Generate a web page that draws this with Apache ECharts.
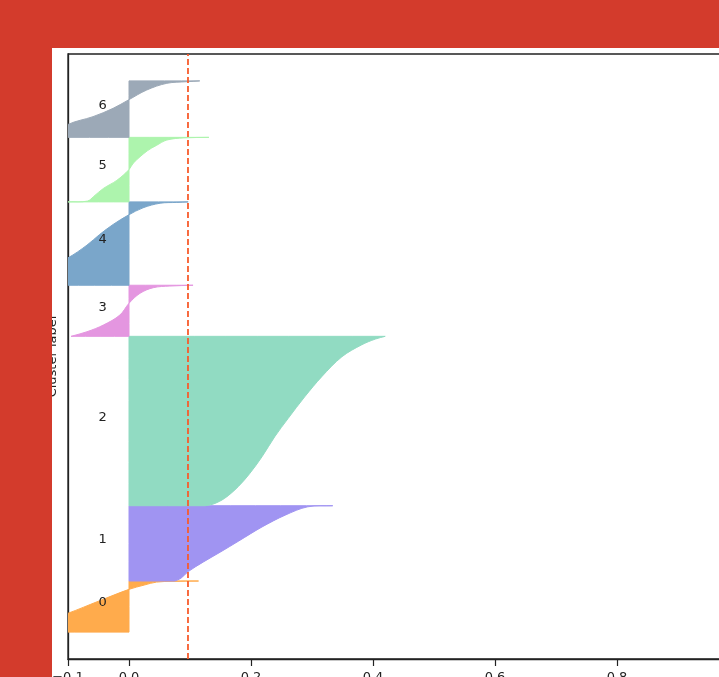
<!DOCTYPE html>
<html>
<head>
<meta charset="utf-8">
<script src="https://cdn.jsdelivr.net/npm/echarts@6/dist/echarts.min.js"></script>
<style>
html,body{margin:0;padding:0;background:#D33B2C;}
#chart{width:719px;height:677px;}
</style>
</head>
<body>
<div id="chart"></div>
<script>
// ---- data ----
const clusterNames = ['0', '1', '2', '3', '4', '5', '6'];
const clusterSizes = [19, 28, 63, 19, 31, 24, 21];
const clusterColors = ['#FFAB4C', '#A094F2', '#91DBC2', '#E496E0', '#7AA6CA', '#ADF4AD', '#9CA9B7'];
const silhouetteAvg = 0.0967;
const xTicks = [-0.1, 0.0, 0.2, 0.4, 0.6, 0.8, 1.0];

// sorted silhouette profile per cluster: sample rank within cluster -> silhouette value
const c0Rank  = [0, 4, 7.0, 11.5, 15.9, 17.5, 18.6, 18.9, 19];
const c0Value = [-0.18, -0.14, -0.100, -0.050, 0.000, 0.025, 0.045, 0.072, 0.114];

const c1Rank  = [0, 1, 3.5, 7.1, 10.8, 14.9, 20.1, 24.5, 27.6, 28];
const c1Value = [0.075, 0.085, 0.097, 0.122, 0.150, 0.180, 0.218, 0.256, 0.293, 0.334];

const c2Rank  = [0, 0.6, 2.8, 7.1, 12.0, 18.2, 25.7, 32.5, 40.5, 48.0, 55.4, 59.8, 62, 63];
const c2Value = [0.125, 0.138, 0.157, 0.179, 0.198, 0.218, 0.239, 0.261, 0.288, 0.316, 0.349, 0.381, 0.404, 0.420];

const c3Rank  = [0, 1.7, 4.2, 7.9, 12.3, 16.0, 18.1, 18.7, 19];
const c3Value = [-0.095, -0.069, -0.042, -0.015, 0.000, 0.018, 0.040, 0.067, 0.105];

const c4Rank  = [0, 5, 10.2, 14.9, 18.9, 22.6, 26.1, 28.8, 30.5, 30.8, 31];
const c4Value = [-0.22, -0.15, -0.100, -0.069, -0.048, -0.026, -0.001, 0.023, 0.051, 0.078, 0.097];

const c5Rank  = [0, 0.3, 2, 5, 8, 12, 14.4, 19, 21, 23, 23.8, 24];
const c5Value = [-0.100, -0.068, -0.058, -0.042, -0.020, 0.000, 0.007, 0.030, 0.045, 0.062, 0.090, 0.131];

const c6Rank  = [0, 4.8, 7.7, 10.8, 13.9, 17.6, 20.1, 20.7, 21];
const c6Value = [-0.13, -0.100, -0.059, -0.026, -0.001, 0.029, 0.062, 0.095, 0.116];

const profiles = [
  [c0Rank, c0Value], [c1Rank, c1Value], [c2Rank, c2Value], [c3Rank, c3Value],
  [c4Rank, c4Value], [c5Rank, c5Value], [c6Rank, c6Value]
];

// stacking of clusters along y (as in the silhouette plot)
const gap = 10;
let lower = gap;
const bases = clusterSizes.map(s => { const b = lower; lower += s; return b; });
const yMax = lower + gap;

const FONT = 'DejaVu Sans';
const INK = '#222';

const chart = echarts.init(document.getElementById('chart'), null, {renderer: 'canvas'});

const clusterData = clusterNames.map((n, i) => [0, bases[i] + clusterSizes[i] / 2, i]);
const labelData = clusterNames.map((n, i) => [-0.05, bases[i] + clusterSizes[i] / 2, i]);

function renderCluster(params, api) {
  const i = api.value(2);
  const base = bases[i], size = clusterSizes[i];
  const ranks = profiles[i][0], vals = profiles[i][1];
  const a = api.coord([0, base]);
  const b = api.coord([0, base + size]);
  const curve = ranks.map((r, k) => api.coord([vals[k], base + r]));
  // corners are doubled so the bezier smoothing keeps them sharp
  const pts = [a, a, curve[0]].concat(curve, [curve[curve.length - 1], b, b]);
  return {
    type: 'polygon',
    shape: {points: pts, smooth: 0.35},
    style: {fill: clusterColors[i], stroke: clusterColors[i], lineWidth: 1}
  };
}

function renderLabel(params, api) {
  const i = api.value(2);
  const p = api.coord([api.value(0), api.value(1)]);
  return {
    type: 'text',
    x: p[0], y: p[1] + 3,
    style: {text: clusterNames[i], align: 'left', verticalAlign: 'bottom',
            fontSize: 13, fontFamily: FONT, fill: INK}
  };
}

const fmt = v => (Math.round(v * 10) / 10).toFixed(1).replace('-', '\u2212');

chart.setOption({
  animation: false,
  backgroundColor: '#D33B2C',
  textStyle: {fontFamily: FONT},
  graphic: [
    {type: 'rect', z: -100, silent: true, shape: {x: 52, y: 48, width: 667, height: 629}, style: {fill: '#ffffff'}},
    {type: 'rect', z: 1000, silent: true, shape: {x: 0, y: 0, width: 52, height: 677}, style: {fill: '#D33B2C'}},
    {type: 'rect', z: 1000, silent: true, shape: {x: 0, y: 0, width: 719, height: 48}, style: {fill: '#D33B2C'}}
  ],
  grid: {left: 68, top: 54, right: -20, bottom: 18, containLabel: false, outerBoundsMode: 'none',
         show: true, borderColor: INK, borderWidth: 1.3, backgroundColor: 'transparent'},
  xAxis: {
    type: 'value', min: -0.1, max: 1.0,
    axisLine: {show: true, onZero: false, lineStyle: {color: INK, width: 1.3}},
    axisTick: {show: true, length: 7, customValues: xTicks, lineStyle: {color: INK, width: 1.2}},
    axisLabel: {show: true, customValues: xTicks, formatter: fmt, fontSize: 13, color: INK, margin: 12, fontFamily: FONT,
                hideOverlap: false, showMinLabel: true, showMaxLabel: true},
    splitLine: {show: false}
  },
  yAxis: {
    type: 'value', min: 0, max: yMax,
    name: 'Cluster label', nameLocation: 'middle', nameGap: 9,
    nameTextStyle: {fontSize: 13, color: INK, fontFamily: FONT},
    axisLine: {show: true, onZero: false, lineStyle: {color: INK, width: 1.3}},
    axisTick: {show: false}, axisLabel: {show: false}, splitLine: {show: false}
  },
  series: [
    {type: 'custom', name: 'clusters', clip: true, renderItem: renderCluster,
     encode: {x: 0, y: 1}, data: clusterData, z: 2},
    {type: 'custom', name: 'labels', renderItem: renderLabel,
     encode: {x: 0, y: 1}, data: labelData, z: 3},
    {type: 'line', name: 'average', symbol: 'none', z: 4,
     data: [[silhouetteAvg, 0], [silhouetteAvg, yMax]],
     lineStyle: {color: '#F85C2C', width: 1.8, type: [6, 3]}}
  ]
});
</script>
</body>
</html>
